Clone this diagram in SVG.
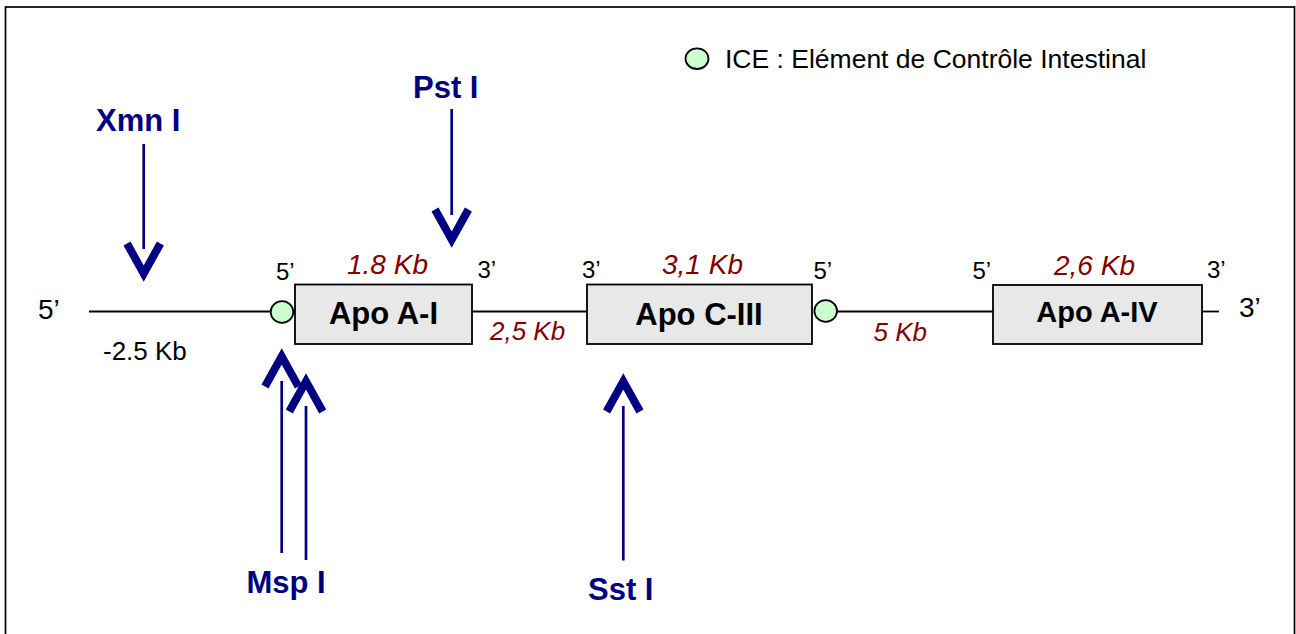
<svg xmlns="http://www.w3.org/2000/svg" width="1296" height="634" viewBox="0 0 1296 634">
<style>
.frame{fill:#fff;stroke:#000;stroke-width:1.7}
.dna{stroke:#000;stroke-width:1.8;fill:none}
.gene{fill:#e8e8e8;stroke:#000;stroke-width:1.8}
.ice{fill:#ccffcc;stroke:#000;stroke-width:1.8}
.shaft{stroke:#000080;stroke-width:2.7;fill:none}
.chev{stroke:#000080;stroke-width:8;fill:none;stroke-linejoin:miter;stroke-miterlimit:10}
.enz{font-family:"Liberation Sans",Arial,sans-serif;font-weight:bold;font-size:31px;fill:#000080}
.gname{font-family:"Liberation Sans",Arial,sans-serif;font-weight:bold;font-size:31px;fill:#000}
.end{font-family:"Liberation Sans",Arial,sans-serif;font-size:24px;fill:#000}
.bigend{font-family:"Liberation Sans",Arial,sans-serif;font-size:28px;fill:#000}
.kb{font-family:"Liberation Sans",Arial,sans-serif;font-style:italic;font-size:28px;fill:#800000}
.kbs{font-family:"Liberation Sans",Arial,sans-serif;font-style:italic;font-size:26px;fill:#800000}
.txt{font-family:"Liberation Sans",Arial,sans-serif;font-size:26.5px;fill:#000}
</style>
<rect class="frame" x="5.5" y="7" width="1289" height="700"/>

<g id="legend">
  <ellipse class="ice" cx="697" cy="58.7" rx="11.5" ry="10.3"/>
  <text class="txt" x="725" y="68">ICE : Elément de Contrôle Intestinal</text>
</g>

<g id="connectors">
  <line class="dna" x1="89" y1="311.5" x2="271" y2="311.5"/>
  <line class="dna" x1="293" y1="311.5" x2="295" y2="311.5"/>
  <line class="dna" x1="472" y1="311.5" x2="587" y2="311.5"/>
  <line class="dna" x1="837" y1="311.5" x2="993" y2="311.5"/>
  <line class="dna" x1="1202" y1="311.5" x2="1219" y2="311.5"/>

  <!-- Xmn I -->
  <line class="shaft" x1="143.7" y1="144" x2="143.7" y2="249"/>
  <polyline class="chev" points="127,243.5 143.7,273.6 160.4,243.5"/>
  <!-- Pst I -->
  <line class="shaft" x1="451.7" y1="109" x2="451.7" y2="215"/>
  <polyline class="chev" points="435,209.5 451.7,239.6 468.4,209.5"/>
  <!-- Msp I (two) -->
  <line class="shaft" x1="281.7" y1="381" x2="281.7" y2="553"/>
  <polyline class="chev" points="265,386.5 281.7,356.4 298.4,386.5"/>
  <line class="shaft" x1="306" y1="406" x2="306" y2="560"/>
  <polyline class="chev" points="289.3,411.5 306,381.4 322.7,411.5"/>
  <!-- Sst I -->
  <line class="shaft" x1="623.3" y1="406" x2="623.3" y2="560.5"/>
  <polyline class="chev" points="606.6,411.5 623.3,381.4 640,411.5"/>
</g>

<g id="ice1"><ellipse class="ice" cx="282" cy="312" rx="11.3" ry="10.8"/></g>
<g id="ice2"><ellipse class="ice" cx="825.7" cy="311" rx="11.3" ry="10.8"/></g>

<g id="apoA1">
  <rect class="gene" x="295" y="284.5" width="177" height="59.5"/>
  <text class="gname" x="383.5" y="324" text-anchor="middle">Apo A-I</text>
</g>
<g id="apoC3">
  <rect class="gene" x="587" y="284.5" width="225" height="59.5"/>
  <text class="gname" x="699" y="325" text-anchor="middle">Apo C-III</text>
</g>
<g id="apoA4">
  <rect class="gene" x="993" y="285" width="209" height="59"/>
  <text class="gname" x="1097" y="322" text-anchor="middle" style="font-size:29px">Apo A-IV</text>
</g>

<g id="labels">
  <text class="bigend" x="38" y="319">5’</text>
  <text class="bigend" x="1239" y="317">3’</text>
  <text class="end" x="276" y="280">5’</text>
  <text class="end" x="477.5" y="278">3’</text>
  <text class="end" x="582" y="278">3’</text>
  <text class="end" x="813.5" y="279">5’</text>
  <text class="end" x="972.5" y="279">5’</text>
  <text class="end" x="1207" y="278">3’</text>
  <text class="kb" x="347" y="274">1.8 Kb</text>
  <text class="kb" x="662" y="274">3,1 Kb</text>
  <text class="kb" x="1054" y="275">2,6 Kb</text>
  <text class="kbs" x="490" y="340">2,5 Kb</text>
  <text class="kbs" x="873.5" y="341">5 Kb</text>
  <text class="txt" x="103" y="360" style="font-size:26px">-2.5 Kb</text>
</g>

<g id="enzymes">
  <text class="enz" x="96" y="131">Xmn I</text>
  <text class="enz" x="413" y="98">Pst I</text>
  <text class="enz" x="246.5" y="593">Msp I</text>
  <text class="enz" x="588" y="600">Sst I</text>
</g>
</svg>
